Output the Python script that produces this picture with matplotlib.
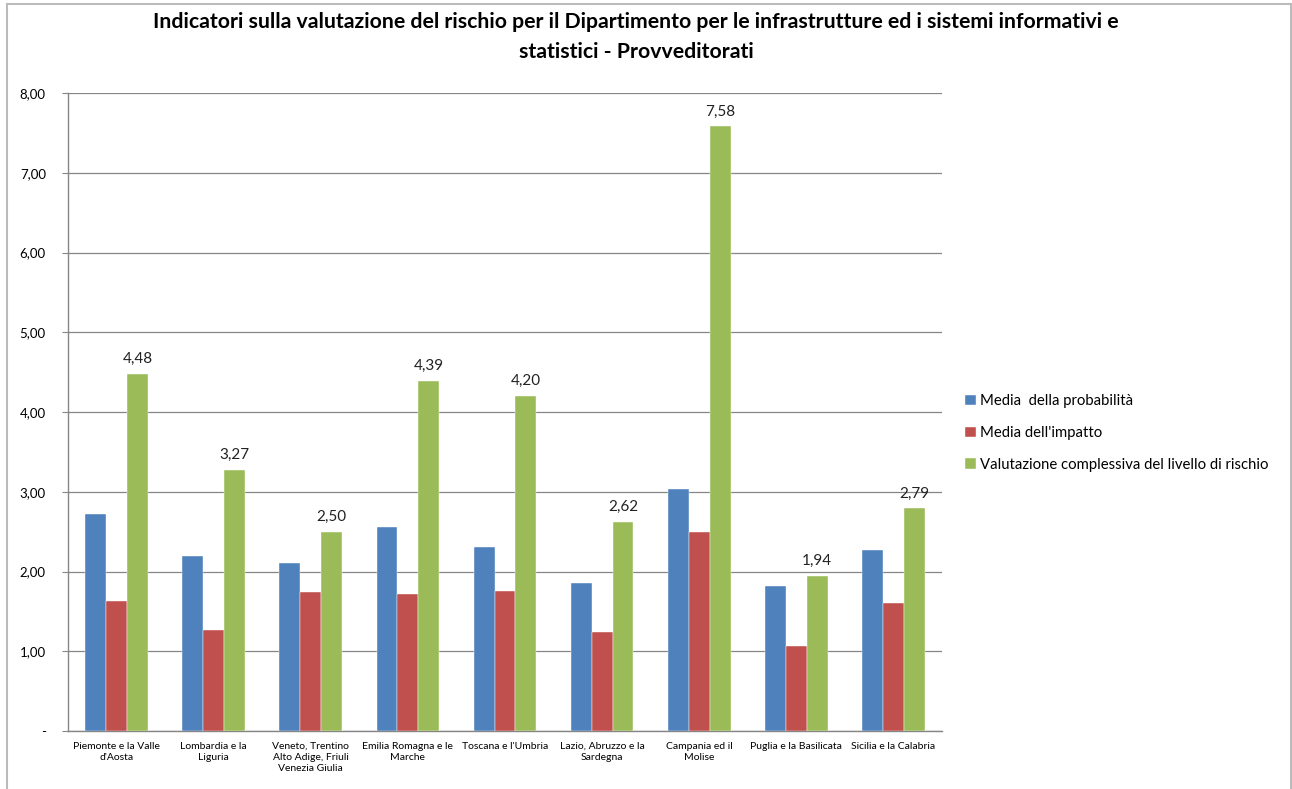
import numpy as np
import matplotlib.pyplot as plt
from matplotlib.patches import Rectangle

plt.rcParams['font.family'] = ['Lato', 'DejaVu Sans']

# regions (provveditorati) and the three indicators
regioni = ["Piemonte e la Valle\nd'Aosta", "Lombardia e la\nLiguria",
           "Veneto, Trentino\nAlto Adige, Friuli\nVenezia Giulia",
           "Emilia Romagna e le\nMarche", "Toscana e l'Umbria",
           "Lazio, Abruzzo e la\nSardegna", "Campania ed il\nMolise",
           "Puglia e la Basilicata", "Sicilia e la Calabria"]
probabilita = [2.72, 2.19, 2.11, 2.56, 2.31, 1.86, 3.03, 1.82, 2.27]
impatto = [1.63, 1.27, 1.74, 1.72, 1.75, 1.24, 2.50, 1.07, 1.61]
rischio = [4.48, 3.27, 2.50, 4.39, 4.20, 2.62, 7.58, 1.94, 2.79]
serie_nomi = ["Media  della probabilità", "Media dell'impatto",
              "Valutazione complessiva del livello di rischio"]
colori = ['#4F81BD', '#C0504D', '#9BBB59']
y_ticks = [0, 1, 2, 3, 4, 5, 6, 7, 8]

fig = plt.figure(figsize=(12.92, 7.89), dpi=100)
# outer chart frame
fig.patches.append(Rectangle((7/1292, -0.01), 1284/1292, 1.0 - 4/789 + 0.01,
                             transform=fig.transFigure, fill=False,
                             edgecolor='#BBBBBB', linewidth=1.5))

ax = fig.add_axes([68/1292, 58/789, 874/1292, 638/789])
x = np.arange(len(regioni))
w = 0.215
bars = []
for i, (vals, col, nome) in enumerate(zip([probabilita, impatto, rischio], colori, serie_nomi)):
    b = ax.bar(x + (i - 1) * w, vals, width=w, color=col, label=nome,
               edgecolor='white', linewidth=0.3, zorder=3)
    bars.append(b)

# value labels only on the overall risk series
for rect, v in zip(bars[2], rischio):
    ax.text(rect.get_x() + rect.get_width() / 2, v + 0.1, f"{v:.2f}".replace('.', ','),
            ha='center', va='bottom', fontsize=11, color='#222222')

ax.set_xlim(-0.5, len(regioni) - 0.5)
ax.set_ylim(0, 8)
ax.set_yticks(y_ticks)
ax.set_yticklabels(['-' if t == 0 else f"{t:.2f}".replace('.', ',') for t in y_ticks],
                   fontsize=9.5)
ax.set_xticks(x)
ax.set_xticklabels(regioni, fontsize=7.5, linespacing=1.3)
ax.tick_params(axis='x', length=0, pad=8)
ax.tick_params(axis='y', length=4, width=0.8, color='#868686', pad=12)
ax.grid(axis='y', color='#868686', linewidth=0.9, zorder=0)
for s in ['top', 'right']:
    ax.spines[s].set_visible(False)
for s in ['left', 'bottom']:
    ax.spines[s].set_color('#868686')
    ax.spines[s].set_linewidth(1.0)

fig.text(636/1292, 1 - 22/789,
         "Indicatori sulla valutazione del rischio per il Dipartimento per le infrastrutture ed i sistemi informativi e",
         ha='center', va='center', fontsize=15.3, fontweight='bold')
fig.text(636/1292, 1 - 52/789, "statistici - Provveditorati",
         ha='center', va='center', fontsize=15.3, fontweight='bold')

ax.legend(loc='center left', bbox_to_anchor=(952/1292, 1 - 433/789), bbox_transform=fig.transFigure,
          frameon=False, fontsize=10.7, handlelength=0.7, handleheight=0.7,
          handletextpad=0.3, labelspacing=1.2)

fig.savefig('out.png', dpi=100)
